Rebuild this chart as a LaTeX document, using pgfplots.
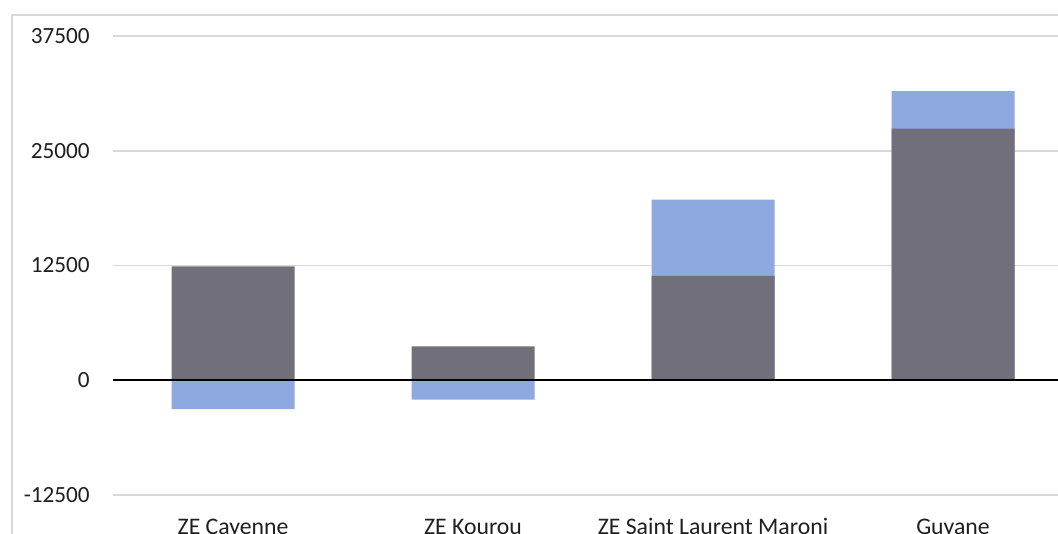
\documentclass[border=0pt]{standalone}
\usepackage{fontspec}
\setmainfont{Carlito}
\usepackage{pgfplots}
\pgfplotsset{compat=1.18}
\usepackage{pgfplotstable}

\definecolor{barGrey}{HTML}{716F7A}
\definecolor{barBlue}{HTML}{8EA9E0}
\definecolor{gridGrey}{HTML}{D9D9D9}

% grey: first component; blue: second component (stacked on grey when positive,
% hanging below zero when negative)
\pgfplotstableread{
idx grey blue
0 12400 -3150
1 3700 -2120
2 11380 8300
3 27400 4100
}\zedata

\begin{document}
\begin{tikzpicture}
\useasboundingbox (0,0) rectangle (793.5pt,399.75pt);
% chart area frame
\draw[gridGrey, line width=1.5pt] (9pt,-20pt) -- (9pt,388.5pt) -- (820pt,388.5pt);
\begin{axis}[
  at={(84.75pt,0pt)}, anchor=south west,
  scale only axis, width=708.75pt, height=399.75pt,
  xmin=-0.5, xmax=3.4375, ymin=-16639, ymax=41422,
  axis line style={draw=none}, major tick length=0pt,
  xtick={0,1,2,3},
  xticklabels={ZE Cayenne, ZE Kourou, ZE Saint Laurent Maroni, Guyane},
  ytick={-12500,0,12500,25000,37500},
  yticklabels={-12500,0,12500,25000,37500},
  ymajorgrids, grid style={gridGrey, line width=1.2pt},
  tick label style={inner sep=0pt, text=black!88},
  yticklabel style={font=\fontsize{17.4}{20}\selectfont, anchor=east, xshift=-17.25pt},
  xticklabel style={font=\fontsize{17.8}{20}\selectfont, anchor=base, yshift=-1.1pt},
  ybar, bar width=92.25pt,
]
\addplot[fill=barBlue, draw=none, bar shift=0pt]
  table[x=idx, y expr={\thisrow{blue}>0 ? \thisrow{grey}+\thisrow{blue} : \thisrow{blue}}]{\zedata};
\addplot[fill=barGrey, draw=none, bar shift=0pt]
  table[x=idx, y=grey]{\zedata};
% horizontal axis line at zero
\draw[black, line width=1.6pt] (axis cs:-0.5,0) -- (axis cs:3.4375,0);
\end{axis}
\end{tikzpicture}
\end{document}
